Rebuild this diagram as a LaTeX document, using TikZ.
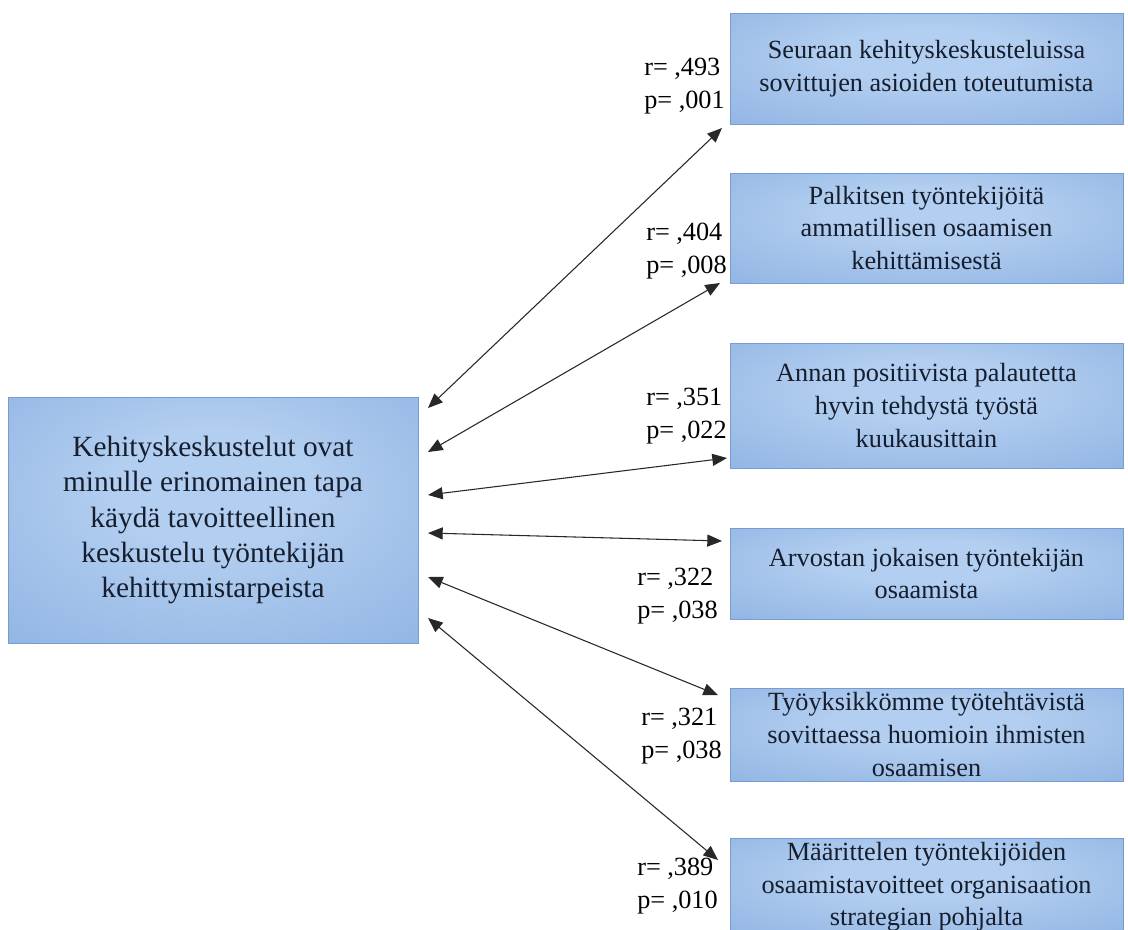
\documentclass[tikz,border=0pt]{standalone}
\usepackage{fontspec}
\setmainfont{Liberation Serif}
\usetikzlibrary{arrows.meta}

\definecolor{boxin}{RGB}{178,206,240}
\definecolor{boxout}{RGB}{132,170,222}
\definecolor{boxedge}{RGB}{118,156,210}
\definecolor{ink}{RGB}{22,30,46}
\definecolor{linecol}{RGB}{40,40,40}

% soft blue fill, lighter towards the upper middle
\pgfdeclareradialshading{boxshade}{\pgfpoint{0bp}{8bp}}{%
  color(0bp)=(boxin); color(12bp)=(boxin); color(50bp)=(boxout); color(60bp)=(boxout)}

\begin{document}
\begin{tikzpicture}[x=0.75pt,y=-0.75pt,
  box/.style={rectangle, draw=boxedge, line width=0.4pt, shading=boxshade,
    inner sep=0pt, outer sep=0pt, align=center, text=ink},
  mainbox/.style={box, minimum width=307.5pt, minimum height=184.5pt,
    font=\fontsize{22}{26.4}\selectfont},
  itembox/.style={box, minimum width=294.75pt,
    font=\fontsize{19.7}{24.4}\selectfont},
  lbl/.style={anchor=east, align=left, inner sep=0pt,
    font=\fontsize{19.7}{24.8}\selectfont},
  conn/.style={draw=linecol, line width=0.8pt,
    {Triangle[length=11pt,width=9pt]}-{Triangle[length=11pt,width=9pt]}}]

\clip (0,0) rectangle (1128,929);
\fill[white] (0,0) rectangle (1128,929);

% central statement
\node[mainbox] (main) at (213,520) {Kehityskeskustelut ovat\\minulle erinomainen tapa\\käydä tavoitteellinen\\keskustelu työntekijän\\kehittymistarpeista};

% correlated statements
\node[itembox, minimum height=83.25pt] (b1) at (926.5,68.5) {Seuraan kehityskeskusteluissa\\sovittujen asioiden toteutumista};
\node[itembox, minimum height=82.5pt] (b2) at (926.5,228) {Palkitsen työntekijöitä\\ammatillisen osaamisen\\kehittämisestä};
\node[itembox, minimum height=93.75pt] (b3) at (926.5,405.5) {Annan positiivista palautetta\\hyvin tehdystä työstä\\kuukausittain};
\node[itembox, minimum height=68.25pt] (b4) at (926.5,573.5) {Arvostan jokaisen työntekijän\\osaamista};
\node[itembox, minimum height=69.75pt] (b5) at (926.5,734.5) {Työyksikkömme työtehtävistä\\sovittaessa huomioin ihmisten\\osaamisen};
\node[itembox, minimum height=73.5pt] (b6) at (926.5,887) {Määrittelen työntekijöiden\\osaamistavoitteet organisaation\\strategian pohjalta};

% arrow end points
\coordinate (s1) at (428,408); \coordinate (t1) at (722,128);
\coordinate (s2) at (428,452); \coordinate (t2) at (720,283);
\coordinate (s3) at (428,495); \coordinate (t3) at (727,458);
\coordinate (s4) at (428,533); \coordinate (t4) at (722,541);
\coordinate (s5) at (428,577); \coordinate (t5) at (718,695);
\coordinate (s6) at (428,618); \coordinate (t6) at (718,860);

\draw[conn] (s1) -- (t1);
\draw[conn] (s2) -- (t2);
\draw[conn] (s3) -- (t3);
\draw[conn] (s4) -- (t4);
\draw[conn] (s5) -- (t5);
\draw[conn] (s6) -- (t6);

% correlation coefficients
\node[lbl] (l1) at (725,86.5) {r= ,493\\p= ,001};
\node[lbl] (l2) at (727,251) {r= ,404\\p= ,008};
\node[lbl] (l3) at (727,416) {r= ,351\\p= ,022};
\node[lbl] (l4) at (718,596) {r= ,322\\p= ,038};
\node[lbl] (l5) at (722,736) {r= ,321\\p= ,038};
\node[lbl] (l6) at (718,886) {r= ,389\\p= ,010};
\end{tikzpicture}
\end{document}
